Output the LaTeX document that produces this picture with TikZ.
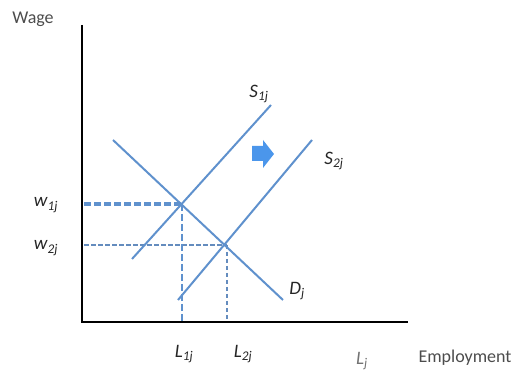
\documentclass[tikz,border=0pt]{standalone}
\usepackage{fontspec}
\setmainfont{Carlito}
\begin{document}
\begin{tikzpicture}[x=1pt,y=-1pt,
  axis/.style={line width=2.8pt,black},
  curve/.style={line width=2pt,color=curveblue},
  dashA/.style={line width=3.6pt,color=curveblue,dash pattern=on 7pt off 3pt},
  dashB/.style={line width=2.2pt,color=dashblue,dash pattern=on 4.5pt off 2.5pt},
  lbl/.style={font=\fontsize{19}{21}\selectfont\itshape,text=black!85,inner sep=0pt},
  axlbl/.style={font=\fontsize{18}{20}\selectfont,text=black!70,inner sep=0pt}]
\definecolor{curveblue}{RGB}{95,145,205}
\definecolor{dashblue}{RGB}{100,140,190}
\definecolor{arrowblue}{RGB}{75,150,235}
\useasboundingbox (0,0) rectangle (515,371);
% axes
\coordinate (O) at (82,322);
\coordinate (Ytop) at (82,25);
\coordinate (Xend) at (408,322);
\draw[axis] (Ytop) -- (O) -- (Xend);
% curves
\coordinate (D1) at (113,140);
\coordinate (D2) at (283,300);
\coordinate (S1a) at (132,259);
\coordinate (S1b) at (271,105);
\coordinate (S2a) at (178,300);
\coordinate (S2b) at (312,140);
\coordinate (E1) at (182,204);
\coordinate (E2) at (227,245);
\coordinate (Y1) at (84,204);
\coordinate (Y2) at (84,245);
\coordinate (X1) at (182,321);
\coordinate (X2) at (227,321);
\draw[dashA] (Y1) -- (E1);
\draw[dashB] (Y2) -- (E2);
\draw[dashA,line width=2.6pt] (E1) -- (X1);
\draw[dashB] (E2) -- (X2);
\draw[curve] (D1) -- (D2);
\draw[curve] (S1a) -- (S1b);
\draw[curve] (S2a) -- (S2b);
% shift arrow
\fill[arrowblue] (252,146) -- (263,146) -- (263,140) -- (274,154) -- (263,168) -- (263,161) -- (252,161) -- cycle;
% labels
\node[axlbl] (wage) at (33,19) {Wage};
\node[axlbl] (emp) at (465,358) {Employment};
\node[lbl,text=black!55] (Lj) at (362,361) {L\textsubscript{j}};
\node[lbl] (L1) at (184,354) {L\textsubscript{1j}};
\node[lbl] (L2) at (243,354) {L\textsubscript{2j}};
\node[lbl] (w1) at (46,205) {w\textsubscript{1j}};
\node[lbl] (w2) at (46,248) {w\textsubscript{2j}};
\node[lbl] (s1) at (259,94) {S\textsubscript{1j}};
\node[lbl] (s2) at (334,161) {S\textsubscript{2j}};
\node[lbl] (dj) at (297,291) {D\textsubscript{j}};
\end{tikzpicture}
\end{document}
